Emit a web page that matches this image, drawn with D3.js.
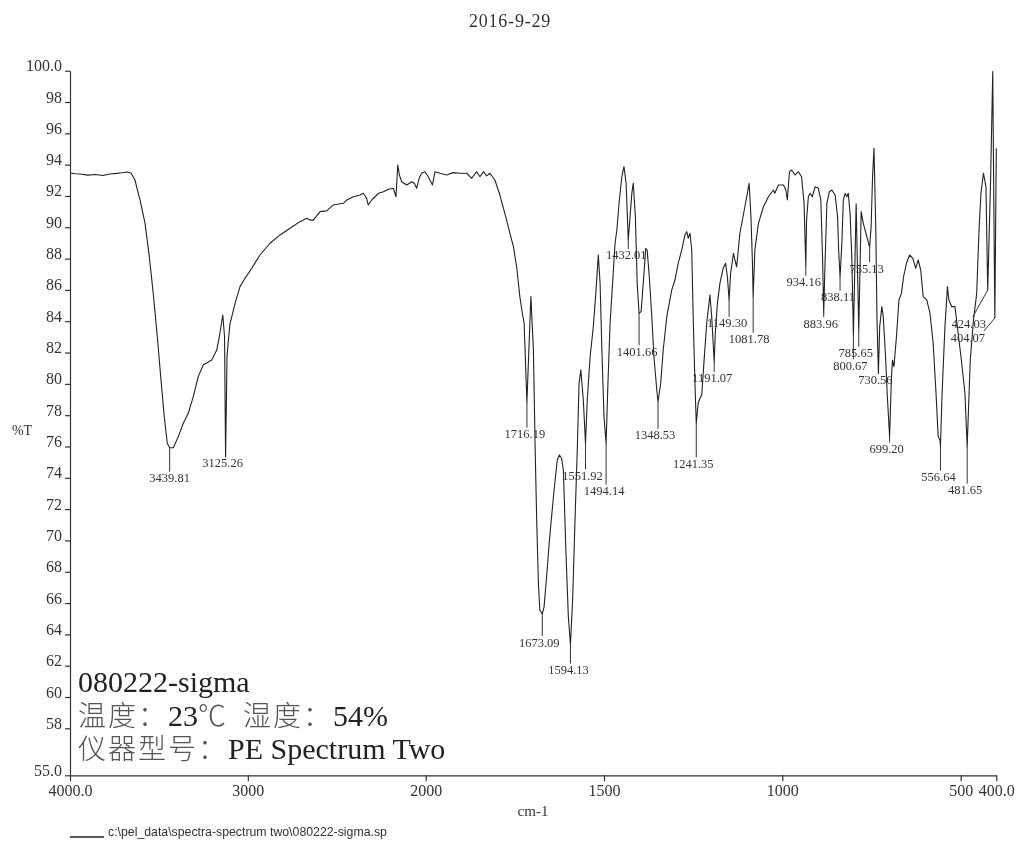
<!DOCTYPE html>
<html lang="zh">
<head>
    <meta charset="UTF-8">
    <title>080222-sigma IR spectrum</title>
    <script src="https://cdnjs.cloudflare.com/ajax/libs/d3/7.8.5/d3.min.js"></script>
    <style>
        body {
            margin: 0;
            background-color: #fff;
        }
        svg {
            display: block;
            font-family: "Liberation Serif", "Times New Roman", serif;
            will-change: transform;
        }
        .axis path, .axis line {
            stroke: #333;
            stroke-width: 1.2;
        }
        .axis text {
            fill: #333;
            font-size: 16px;
            font-family: "Liberation Serif", serif;
        }
        .peak-label {
            fill: #333;
            font-size: 12.5px;
        }
        .leader {
            stroke: #333;
            stroke-width: 1;
        }
        .info {
            font-size: 30px;
            white-space: pre;
        }
        .info .latin {
            font-family: "Liberation Serif", serif;
            fill: #222;
        }
        .info .cjk {
            font-family: "Liberation Serif", "Noto Sans CJK SC", sans-serif;
            font-size: 28px;
            letter-spacing: 2px;
            font-weight: 300;
            fill: #555;
        }
    </style>
</head>
<body>
    <svg id="chart" width="1016" height="844"></svg>

    <script>
        // [wavenumber cm-1, %T]
        const spectrum = [
            [4000, 93.47], [3972, 93.42], [3944, 93.40], [3900, 93.33], [3859, 93.37],
            [3815, 93.31], [3775, 93.40], [3740, 93.44], [3719, 93.47], [3680, 93.53],
            [3657, 93.47], [3635, 93.02], [3606, 91.74], [3578, 90.25], [3554, 88.12],
            [3532, 85.78], [3509, 83.01], [3490, 80.46], [3470, 77.90], [3453, 76.20],
            [3439.81, 75.92], [3419, 75.92], [3391, 76.63], [3363, 77.48], [3335, 78.12],
            [3307, 79.18], [3279, 80.46], [3251, 81.20], [3203, 81.52], [3175, 82.16],
            [3157, 83.23], [3141, 84.40], [3131, 83.01], [3125.26, 75.35], [3117, 81.8],
            [3101, 83.8], [3072, 85.14], [3044, 86.21], [3016, 86.74], [2978, 87.38],
            [2932, 88.23], [2875, 88.98], [2819, 89.51], [2744, 90.08], [2707, 90.36],
            [2669, 90.57], [2651, 90.46], [2632, 90.46], [2594, 91.0], [2557, 91.05],
            [2520, 91.42], [2463, 91.53], [2444, 91.74], [2407, 91.95], [2369, 92.06],
            [2351, 92.17], [2332, 91.85], [2323, 91.42], [2304, 91.74], [2285, 91.95],
            [2266, 92.17], [2238, 92.27], [2210, 92.43], [2182, 92.49], [2167, 91.95],
            [2157, 93.98], [2148, 93.34], [2135, 92.91], [2107, 92.70], [2079, 92.91],
            [2064, 92.81], [2051, 92.49], [2037, 93.13], [2023, 93.45], [2004, 93.55],
            [1993, 93.23], [1981, 92.70], [1974, 93.55], [1960, 93.45], [1941, 93.34],
            [1923, 93.49], [1904, 93.45], [1885, 93.45], [1871, 93.13], [1857, 93.55],
            [1848, 93.23], [1838, 93.55], [1829, 93.28], [1820, 93.45], [1806, 93.02],
            [1792, 92.06], [1773, 90.46], [1764, 89.62], [1754, 88.76], [1745, 87.48],
            [1736, 85.57], [1729, 84.51], [1724, 83.87], [1716.19, 78.8], [1711, 82.0],
            [1705, 85.57], [1698, 82.16], [1693, 75.77], [1689, 71.52], [1684, 67.26],
            [1680, 65.56], [1673.09, 65.3], [1668, 65.77], [1661, 67.69], [1653, 70.03],
            [1647, 71.52], [1640, 73.22], [1631, 75.14], [1625, 75.46], [1619, 75.25],
            [1614, 74.50], [1607, 69.39], [1600, 65.13], [1594.13, 63.35], [1588, 66.2],
            [1581, 71.52], [1575, 75.77], [1570, 80.04], [1565, 80.89], [1558, 78.97],
            [1551.92, 76.2], [1547, 78.97], [1539, 81.73], [1530, 83.65], [1523, 85.78],
            [1516, 88.23], [1511, 86.42], [1506, 82.16], [1500, 77.90], [1494.14, 76.2],
            [1489, 80.04], [1483, 83.87], [1476, 86.42], [1469, 88.98], [1464, 89.83],
            [1457, 91.74], [1450, 93.23], [1444, 93.87], [1438, 92.81], [1432.01, 89.19],
            [1427, 90.68], [1422, 92.17], [1418, 92.81], [1412, 90.68], [1407, 86.42],
            [1401.66, 84.51], [1396, 84.61], [1390, 86.42], [1383, 88.66], [1379, 88.55],
            [1373, 86.84], [1366, 84.29], [1360, 81.73], [1352, 79.61], [1348.53, 78.86],
            [1341, 80.04], [1334, 82.16], [1324, 84.29], [1310, 86.0], [1301, 86.63],
            [1292, 87.70], [1282, 88.55], [1273, 89.51], [1268, 89.72], [1264, 89.30],
            [1259, 89.62], [1254, 88.55], [1250, 84.29], [1245, 80.04], [1241.35, 77.48],
            [1236, 78.76], [1231, 79.08], [1226, 79.29], [1220, 81.31], [1212, 83.87],
            [1203, 85.68], [1198, 84.29], [1191.07, 81.4], [1188, 83.23], [1182, 85.14],
            [1175, 86.42], [1166, 87.38], [1159, 87.70], [1154, 86.84], [1149.30, 85.36],
            [1145, 87.06], [1137, 88.34], [1133, 87.91], [1128, 87.48], [1119, 89.62],
            [1105, 91.31], [1093, 92.81], [1088, 90.68], [1084, 87.91], [1081.78, 85.57],
            [1077, 88.55], [1067, 90.25], [1053, 91.31], [1039, 91.95], [1025, 92.38],
            [1021, 92.17], [1011, 92.70], [997, 92.70], [990, 92.38], [986, 91.74],
            [980, 93.55], [974, 93.66], [964, 93.34], [955, 93.55], [946, 93.23],
            [939, 91.53], [934.16, 87.48], [932, 90.46], [927, 91.95], [922, 92.17],
            [916, 91.95], [908, 92.59], [899, 92.49], [892, 91.74], [887, 87.91],
            [883.96, 84.51], [880, 87.91], [875, 91.53], [868, 92.27], [861, 92.38],
            [852, 92.06], [845, 90.68], [842, 88.5], [838.11, 86.84], [833, 88.98],
            [829, 91.74], [824, 92.17], [819, 91.95], [815, 92.17], [810, 90.89],
            [805, 87.91], [800.67, 83.1], [793, 91.5], [785.65, 83.4], [779, 91.0],
            [773, 90.25], [763, 89.40], [757, 88.87], [755.13, 88.74], [751, 90.04],
            [747, 93.23], [743, 95.04], [738, 90.04], [734.5, 84.1], [730.56, 80.67],
            [727, 83.65], [721, 84.93], [717, 84.29], [711, 81.95], [706, 79.40],
            [699.20, 76.63], [694, 80.46], [691, 81.52], [687, 81.1], [680, 83.01],
            [673, 85.36], [666, 85.78], [660, 86.84], [652, 87.70], [643, 88.23],
            [634, 88.02], [626, 87.38], [619, 87.91], [612, 87.27], [605, 85.57],
            [595, 85.36], [586, 84.51], [577, 82.59], [569, 79.40], [563, 76.63],
            [558, 76.41], [556.64, 75.99], [552, 79.40], [544, 83.65], [537, 86.21],
            [533, 85.36], [525, 84.93], [516, 84.93], [507, 83.23], [498, 81.52],
            [488, 79.40], [481.65, 75.99], [473, 81.52], [464, 84.08], [455, 85.78],
            [448, 90.04], [443, 92.17], [436, 93.45], [429, 92.59], [424.03, 85.99],
            [416, 93.0], [410, 99.94], [407, 91.7], [404.07, 84.2], [400, 95.04]
        ];

        // labelled peak positions, cm-1
        const peaks = [
            3439.81, 3125.26, 1716.19, 1673.09, 1594.13, 1551.92, 1494.14, 1432.01,
            1401.66, 1348.53, 1241.35, 1191.07, 1149.30, 1081.78, 934.16, 883.96,
            838.11, 800.67, 785.65, 755.13, 730.56, 699.20, 556.64, 481.65, 424.03, 404.07
        ];

        const yTickValues = [100, 98, 96, 94, 92, 90, 88, 86, 84, 82, 80, 78, 76, 74, 72, 70, 68, 66, 64, 62, 60, 58, 55];
        const yTickLabels = ["100.0", "98", "96", "94", "92", "90", "88", "86", "84", "82", "80", "78", "76", "74", "72", "70", "68", "66", "64", "62", "60", "58", "55.0"];
        const xTickValues = [4000, 3000, 2000, 1500, 1000, 500, 400];
        const xTickLabels = ["4000.0", "3000", "2000", "1500", "1000", "500", "400.0"];

        const title = "2016-9-29";
        const xTitle = "cm-1";
        const yTitle = "%T";
        const infoLines = ["080222-sigma", "温度：23℃  湿度：54%", "仪器型号：PE Spectrum Two"];
        const fileName = "c:\\pel_data\\spectra-spectrum two\\080222-sigma.sp";

        const svg = d3.select("#chart");

        // the instrument compresses the 4000-2000 half to half scale
        const x = d3.scaleLinear()
            .domain([4000, 2000, 400])
            .range([70, 425.7, 996.3]);

        const y = d3.scaleLinear()
            .domain([55, 100])
            .range([775.3, 70.7]);

        // axes
        const yAxis = svg.append("g")
            .attr("class", "axis")
            .attr("transform", "translate(70,0)")
            .call(d3.axisLeft(y)
                .tickValues(yTickValues)
                .tickFormat((d, i) => yTickLabels[i])
                .tickSize(5)
                .tickSizeOuter(0));
        yAxis.selectAll("text").attr("dy", "0em");

        svg.append("g")
            .attr("class", "axis")
            .attr("transform", "translate(0,775.3)")
            .call(d3.axisBottom(x)
                .tickValues(xTickValues)
                .tickFormat((d, i) => xTickLabels[i])
                .tickSize(6)
                .tickSizeOuter(0));

        // spectrum trace
        const line = d3.line()
            .x(d => x(d[0]))
            .y(d => y(d[1]));

        svg.append("path")
            .datum(spectrum)
            .attr("d", line)
            .attr("fill", "none")
            .attr("stroke", "#222")
            .attr("stroke-width", 1.1)
            .attr("stroke-linejoin", "round");

        // label placement relative to the dip, px [dx, dy to label centre]
        const labelOffset = {
            "3439.81": [0, 30], "3125.26": [-3, 6], "1716.19": [-2, 31], "1673.09": [-3, 28],
            "1594.13": [-2, 25], "1551.92": [-3, 32], "1494.14": [-2, 47], "1432.01": [-2, 15],
            "1401.66": [-2, 38], "1348.53": [-3, 33], "1241.35": [-3, 40], "1191.07": [-2, 16],
            "1149.30": [-2, 23], "1081.78": [-4, 42], "934.16": [-2, 15], "883.96": [-3, 10],
            "838.11": [-2, 20], "800.67": [-3, 30], "785.65": [-3, 22], "755.13": [-3, 21],
            "730.56": [-3, 6], "699.20": [-3, 12], "556.64": [-2, 30], "481.65": [-2, 43],
            "424.03": [-19, 33], "404.07": [-27, 19]
        };
        // side labels get a slanted leader ending at this x offset from the label centre
        const slantLeader = { "424.03": 4, "404.07": 16 };

        const peakData = peaks.map(p => {
            const pt = spectrum.find(d => d[0] === p);
            return { wn: p, t: pt[1], text: p.toFixed(2) };
        });

        const peakG = svg.append("g");

        peakData.forEach(p => {
            const px = x(p.wn);
            const py = y(p.t);
            const [dx, dy] = labelOffset[p.text];
            const lx = px + dx;
            const ly = py + dy;
            const top = ly - 6;

            if (slantLeader[p.text] !== undefined) {
                peakG.append("line")
                    .attr("class", "leader")
                    .attr("x1", px).attr("y1", py)
                    .attr("x2", lx + slantLeader[p.text]).attr("y2", top);
            } else if (top > py + 1) {
                peakG.append("line")
                    .attr("class", "leader")
                    .attr("x1", px).attr("y1", py)
                    .attr("x2", px).attr("y2", top);
            }

            peakG.append("text")
                .attr("class", "peak-label")
                .attr("x", lx)
                .attr("y", ly + 4.5)
                .attr("text-anchor", "middle")
                .text(p.text);
        });

        // titles
        svg.append("text")
            .attr("x", 510)
            .attr("y", 27)
            .attr("text-anchor", "middle")
            .attr("font-size", 18)
            .attr("letter-spacing", 0.8)
            .attr("fill", "#333")
            .text(title);

        svg.append("text")
            .attr("x", 533)
            .attr("y", 816)
            .attr("text-anchor", "middle")
            .attr("font-size", 15)
            .attr("fill", "#333")
            .text(xTitle);

        svg.append("text")
            .attr("x", 22)
            .attr("y", 435)
            .attr("text-anchor", "middle")
            .attr("font-size", 14)
            .attr("fill", "#333")
            .text(yTitle);

        // sample info block as one text, CJK runs drawn lighter like the printout
        const cjkTest = /[\u2103\u3000-\u9fff\uff00-\uffef]/;
        const runSplit = /[\u2103\u3000-\u9fff\uff00-\uffef]+|[^\u2103\u3000-\u9fff\uff00-\uffef]+/g;
        const info = svg.append("text")
            .attr("class", "info")
            .attr("x", 78)
            .attr("y", 692);
        infoLines.forEach((s, i) => {
            s.match(runSplit).forEach((run, j) => {
                const ts = info.append("tspan")
                    .attr("class", cjkTest.test(run) ? "cjk" : "latin")
                    .text(run);
                if (i > 0 && j === 0) ts.attr("x", 78).attr("dy", 33.7);
            });
        });

        // file footer
        svg.append("line")
            .attr("x1", 70).attr("x2", 104)
            .attr("y1", 837).attr("y2", 837)
            .attr("stroke", "#222")
            .attr("stroke-width", 1.5);

        svg.append("text")
            .attr("x", 108)
            .attr("y", 836)
            .style("font-family", "\"Liberation Sans\", Arial, sans-serif")
            .attr("font-size", 12.3)
            .attr("fill", "#333")
            .text(fileName);
    </script>
</body>
</html>
